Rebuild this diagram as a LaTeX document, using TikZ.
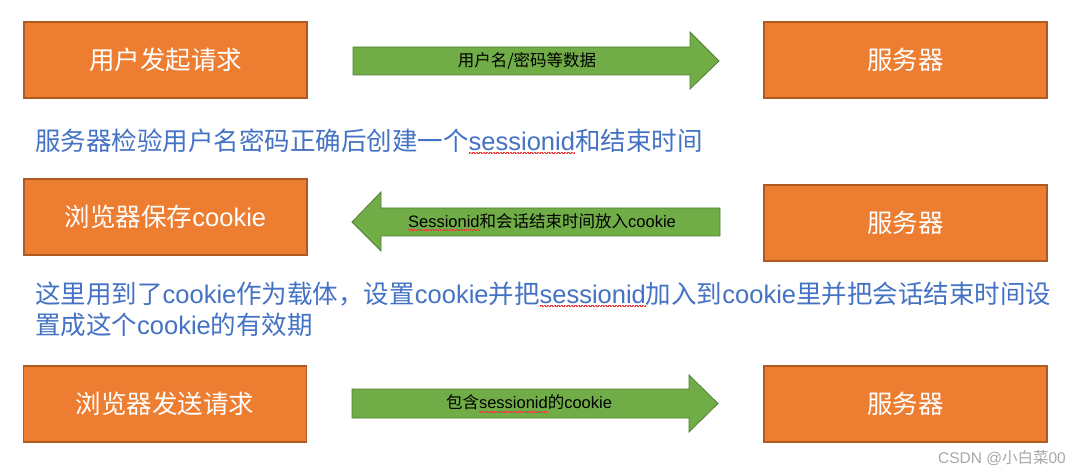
\documentclass[tikz,border=0pt]{standalone}
\usepackage{fontspec}
\setmainfont{Liberation Sans}
\newfontfamily\cjk{Noto Sans CJK SC}
\newcommand\C[1]{{\cjk #1}}
\newcommand\spellerr[1]{\setbox0=\hbox{#1}\rlap{\color{spellred}\hbox to \wd0{\xleaders\hbox{\vrule width 0.7pt height -2.2pt depth 2.8pt\vrule width 0.7pt height -2.8pt depth 3.4pt}\hfill}}\box0}
\definecolor{boxfill}{HTML}{ED7D31}
\definecolor{boxline}{HTML}{AE5A21}
\definecolor{arrfill}{HTML}{70AD47}
\definecolor{arrline}{HTML}{507E32}
\definecolor{bluetext}{HTML}{4472C4}
\definecolor{spellred}{HTML}{E84040}
\definecolor{wmgray}{HTML}{A8A8A8}
\tikzset{
  obox/.style={draw=boxline, line width=1.2pt, fill=boxfill, minimum width=283pt, minimum height=76pt, inner sep=0pt, text=white, font=\fontsize{25.5}{30}\selectfont},
  garrow/.style={draw=arrline, line width=0.8pt, fill=arrfill},
  alabel/.style={inner sep=0pt, text=black, font=\fontsize{16.5}{20}\selectfont},
  btext/.style={inner sep=0pt, anchor=west, text=bluetext, align=left, font=\fontsize{25.5}{31}\selectfont},
}
\begin{document}
\begin{tikzpicture}[x=1pt,y=-1pt]
\useasboundingbox (0,0) rectangle (1080,476);
\fill[white] (0,0) rectangle (1080,476);
% row 1
\node[obox] (u1) at (165.5,60) {\C{用户发起请求}};
\node[obox] (s1) at (905.5,60) {\C{服务器}};
\draw[garrow] (353,47) -- (690,47) -- (690,32) -- (719,61) -- (690,89) -- (690,75) -- (353,75) -- cycle;
\node[alabel] (a1) at (527,61) {\C{用户名/密码等数据}};
% text 1
\node[btext] (t1) at (35,141) {\C{服务器检验用户名密码正确后创建一个}\spellerr{sessionid}\C{和结束时间}};
% row 2
\node[obox] (u2) at (165.5,217) {\C{浏览器保存}cookie};
\node[obox] (s2) at (905.5,223) {\C{服务器}};
\draw[garrow] (720,208) -- (381,208) -- (381,192) -- (352,222) -- (381,251) -- (381,236) -- (720,236) -- cycle;
\node[alabel] (a2) at (542,222) {\spellerr{Sessionid}\C{和会话结束时间放入}cookie};
% text 2
\node[btext] (t2) at (35,309) {\C{这里用到了}cookie\C{作为载体，设置}cookie\C{并把}\spellerr{sessionid}\C{加入到}cookie\C{里并把会话结束时间设}\\\C{置成这个}cookie\C{的有效期}};
% row 3
\node[obox] (u3) at (165,404) {\C{浏览器发送请求}};
\node[obox] (s3) at (905.5,404) {\C{服务器}};
\draw[garrow] (352,389) -- (689,389) -- (689,375) -- (718,403.5) -- (689,432) -- (689,418) -- (352,418) -- cycle;
\node[alabel] (a3) at (529,403.5) {\C{包含}\spellerr{sessionid}\C{的}cookie};
% watermark
\node[inner sep=0pt, anchor=east, text=wmgray, font=\fontsize{15.5}{18}\selectfont] (wm) at (1066,458) {CSDN @\C{小白菜}00};
\end{tikzpicture}
\end{document}
